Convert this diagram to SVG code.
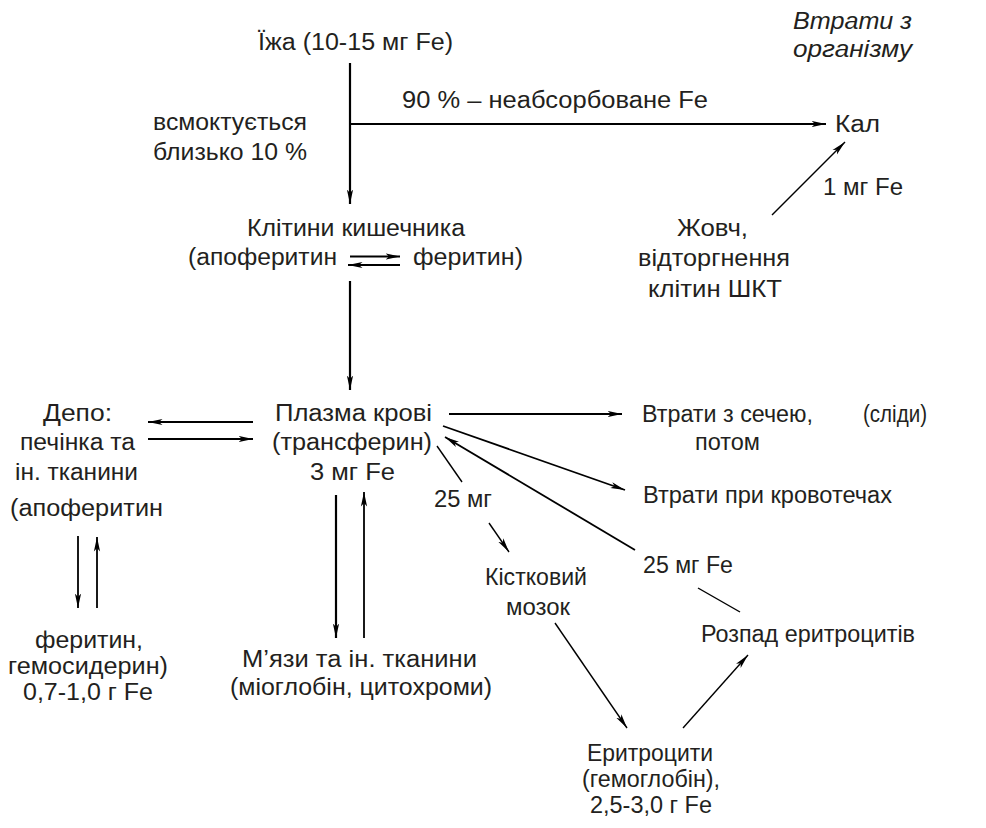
<svg xmlns="http://www.w3.org/2000/svg" width="986" height="828" viewBox="0 0 986 828">
<style>
text{font-family:"Liberation Sans",Arial,sans-serif;font-size:23px;fill:#231f20}
.i{font-style:italic}
.c line{stroke:#000;fill:none}
.t{stroke-width:2.2}
.n{stroke-width:1.4}
.k{stroke-width:1.8}
</style>
<defs>
<marker id="a" markerUnits="userSpaceOnUse" markerWidth="15" markerHeight="8" refX="14.5" refY="3.5" orient="auto" viewBox="0 0 15 7">
<path d="M0,0.4 L14.5,3.5 L0,6.6 L3.5,3.5 z" fill="#000"/>
</marker>
</defs>
<rect width="986" height="828" fill="#fff"/>
<g class="c" id="connectors">
<line class="t" x1="350" y1="63" x2="350" y2="204" marker-end="url(#a)"/>
<line class="t" x1="350" y1="124" x2="826" y2="124" marker-end="url(#a)"/>
<line class="k" x1="350" y1="256.5" x2="400" y2="256.5" marker-end="url(#a)"/>
<line class="t" x1="400" y1="265" x2="348" y2="265" marker-end="url(#a)"/>
<line class="t" x1="350" y1="281" x2="350" y2="390" marker-end="url(#a)"/>
<line class="t" x1="253" y1="422" x2="148" y2="422" marker-end="url(#a)"/>
<line class="k" x1="148" y1="439" x2="253" y2="439" marker-end="url(#a)"/>
<line class="k" x1="78" y1="536" x2="78" y2="608" marker-end="url(#a)"/>
<line class="k" x1="97" y1="608" x2="97" y2="537" marker-end="url(#a)"/>
<line class="t" x1="336" y1="495" x2="336" y2="638" marker-end="url(#a)"/>
<line class="k" x1="364" y1="638" x2="364" y2="492" marker-end="url(#a)"/>
<line class="t" x1="449" y1="414" x2="622" y2="414" marker-end="url(#a)"/>
<line class="k" x1="443" y1="426" x2="625" y2="490" marker-end="url(#a)"/>
<line class="k" x1="635" y1="550" x2="445" y2="437" marker-end="url(#a)"/>
<line class="n" x1="698" y1="588" x2="740" y2="612"/>
<line class="n" x1="437" y1="446" x2="462" y2="482"/>
<line class="n" x1="489" y1="523" x2="509" y2="552" marker-end="url(#a)"/>
<line class="n" x1="555" y1="623" x2="627" y2="728" marker-end="url(#a)"/>
<line class="n" x1="683" y1="728" x2="748" y2="655" marker-end="url(#a)"/>
<line class="n" x1="772" y1="215" x2="845" y2="142" marker-end="url(#a)"/>
</g>
<g id="food"><text x="258" y="50" textLength="195" lengthAdjust="spacingAndGlyphs">Їжа (10-15 мг Fe)</text></g>
<g id="absorb"><text x="153" y="130" textLength="154" lengthAdjust="spacingAndGlyphs">всмоктується</text><text x="153" y="160" textLength="154" lengthAdjust="spacingAndGlyphs">близько 10 %</text></g>
<g id="unabs"><text x="402" y="108" textLength="306" lengthAdjust="spacingAndGlyphs">90 % – неабсорбоване Fe</text></g>
<g id="losses"><text class="i" x="793" y="29" textLength="119" lengthAdjust="spacingAndGlyphs">Втрати з</text><text class="i" x="793" y="57" textLength="119" lengthAdjust="spacingAndGlyphs">організму</text></g>
<g id="feces"><text x="835" y="132" textLength="45" lengthAdjust="spacingAndGlyphs">Кал</text></g>
<g id="bilemg"><text x="823" y="195" textLength="80" lengthAdjust="spacingAndGlyphs">1 мг Fe</text></g>
<g id="bile"><text x="677" y="236" textLength="71" lengthAdjust="spacingAndGlyphs">Жовч,</text><text x="638" y="266" textLength="152" lengthAdjust="spacingAndGlyphs">відторгнення</text><text x="648" y="297" textLength="134" lengthAdjust="spacingAndGlyphs">клітин ШКТ</text></g>
<g id="intestine"><text x="247" y="236" textLength="218" lengthAdjust="spacingAndGlyphs">Клітини кишечника</text><text x="188" y="265" textLength="149" lengthAdjust="spacingAndGlyphs">(апоферитин</text><text x="413" y="265" textLength="110" lengthAdjust="spacingAndGlyphs">феритин)</text></g>
<g id="plasma"><text x="275" y="421" textLength="157" lengthAdjust="spacingAndGlyphs">Плазма крові</text><text x="272" y="450" textLength="160" lengthAdjust="spacingAndGlyphs">(трансферин)</text><text x="310" y="480" textLength="85" lengthAdjust="spacingAndGlyphs">3 мг Fe</text></g>
<g id="depot"><text x="43" y="421" textLength="69" lengthAdjust="spacingAndGlyphs">Депо:</text><text x="20" y="450" textLength="115" lengthAdjust="spacingAndGlyphs">печінка та</text><text x="15" y="480" textLength="123" lengthAdjust="spacingAndGlyphs">ін. тканини</text><text x="10" y="516" textLength="153" lengthAdjust="spacingAndGlyphs">(апоферитин</text></g>
<g id="ferritin"><text x="35" y="648" textLength="108" lengthAdjust="spacingAndGlyphs">феритин,</text><text x="8" y="674" textLength="160" lengthAdjust="spacingAndGlyphs">гемосидерин)</text><text x="23" y="700" textLength="130" lengthAdjust="spacingAndGlyphs">0,7-1,0 г Fe</text></g>
<g id="muscle"><text x="242" y="667" textLength="235" lengthAdjust="spacingAndGlyphs">М’язи та ін. тканини</text><text x="230" y="695" textLength="262" lengthAdjust="spacingAndGlyphs">(міоглобін, цитохроми)</text></g>
<g id="urine"><text x="642" y="422" textLength="171" lengthAdjust="spacingAndGlyphs">Втрати з сечею,</text><text x="863" y="422" textLength="64" lengthAdjust="spacingAndGlyphs">(сліди)</text><text x="695" y="450" textLength="65" lengthAdjust="spacingAndGlyphs">потом</text></g>
<g id="bleed"><text x="643" y="503" textLength="249" lengthAdjust="spacingAndGlyphs">Втрати при кровотечах</text></g>
<g id="mg25"><text x="434" y="507" textLength="58" lengthAdjust="spacingAndGlyphs">25 мг</text></g>
<g id="marrow"><text x="485" y="585" textLength="102" lengthAdjust="spacingAndGlyphs">Кістковий</text><text x="506" y="615" textLength="64" lengthAdjust="spacingAndGlyphs">мозок</text></g>
<g id="mg25fe"><text x="643" y="573" textLength="90" lengthAdjust="spacingAndGlyphs">25 мг Fe</text></g>
<g id="breakdown"><text x="701" y="642" textLength="214" lengthAdjust="spacingAndGlyphs">Розпад еритроцитів</text></g>
<g id="rbc"><text x="587" y="761" textLength="126" lengthAdjust="spacingAndGlyphs">Еритроцити</text><text x="582" y="787" textLength="138" lengthAdjust="spacingAndGlyphs">(гемоглобін),</text><text x="590" y="813" textLength="122" lengthAdjust="spacingAndGlyphs">2,5-3,0 г Fe</text></g>
</svg>
